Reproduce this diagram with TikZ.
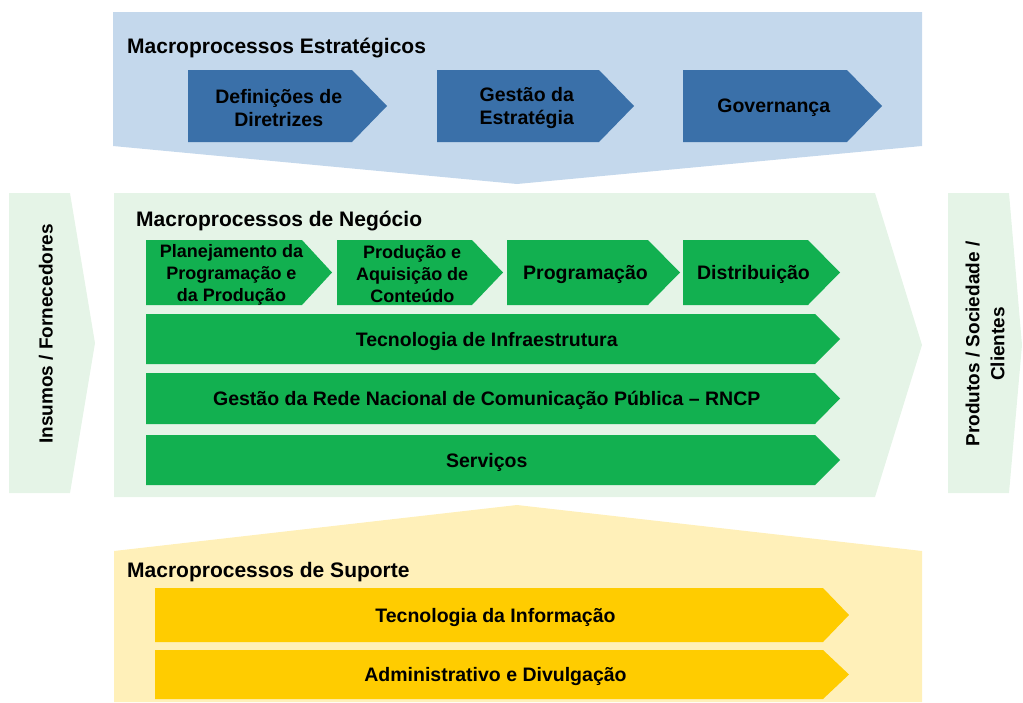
\documentclass[tikz,border=0pt]{standalone}
\usepackage{fontspec}
\setmainfont{Liberation Sans}

\definecolor{bluebg}{HTML}{C4D8EC}
\definecolor{bluebox}{HTML}{3A70A9}
\definecolor{greenbg}{HTML}{E5F4E7}
\definecolor{greenbox}{HTML}{12B050}
\definecolor{yellowbg}{HTML}{FFF0B9}
\definecolor{yellowbox}{HTML}{FFCC00}

\tikzset{
  titletext/.style={anchor=base west, inner sep=0pt, font=\bfseries\fontsize{21}{25}\selectfont},
  boxtext/.style={align=center, inner sep=0pt, yshift=-2pt, font=\bfseries\fontsize{19.5}{23.5}\selectfont},
  rowtext/.style={align=center, inner sep=0pt, yshift=-2pt, font=\bfseries\fontsize{18}{22}\selectfont},
  sidetext/.style={align=center, inner sep=0pt, rotate=90, font=\bfseries\fontsize{19}{25}\selectfont}
}

% name, colour, left, top, flat end, bottom, tip, text style
\newcommand{\procbox}[8]{%
  \fill[#2] (#3,#4) -- (#5,#4) -- (#7,{(#4+#6)/2}) -- (#5,#6) -- (#3,#6) -- cycle;
  \node[#8] (#1) at ({(#3+(#5+#7)/2)/2},{(#4+#6)/2})}

\begin{document}
\begin{tikzpicture}[x=1pt,y=-1pt]
  \useasboundingbox (0,0) rectangle (1023,702);

  \fill[bluebg] (113,12) -- (922,12) -- (922,146) -- (517,184) -- (113,146) -- cycle;
  \fill[greenbg] (114,193) -- (875,193) -- (922,345) -- (875,497) -- (114,497) -- cycle;
  \fill[yellowbg] (114,551) -- (517,505) -- (922,551) -- (922,702) -- (114,702) -- cycle;
  \fill[greenbg] (9,193) -- (70,193) -- (95,343) -- (70,493) -- (9,493) -- cycle;
  \fill[greenbg] (948,193) -- (1009,193) -- (1022,345) -- (1009,493) -- (948,493) -- cycle;

  \node[titletext] (estrat) at (127,53) {Macroprocessos Estratégicos};
  \node[titletext] (negocio) at (136,226) {Macroprocessos de Negócio};
  \node[titletext] (suporte) at (127,577) {Macroprocessos de Suporte};

  \procbox{diretrizes}{bluebox}{188}{70}{352}{142}{387}{boxtext} {Definições de\\Diretrizes};
  \procbox{estrategia}{bluebox}{437}{70}{599}{142}{634}{boxtext} {Gestão da\\Estratégia};
  \procbox{governanca}{bluebox}{683}{70}{847}{142}{882}{boxtext} {Governança};

  \procbox{planejamento}{greenbox}{146}{240}{302}{305}{332}{rowtext} {Planejamento da\\Programação e\\da Produção};
  \procbox{producao}{greenbox}{337}{240}{472}{305}{503}{rowtext} {Produção e\\Aquisição de\\Conteúdo};
  \procbox{programacao}{greenbox}{507}{240}{648}{305}{680}{boxtext} {Programação};
  \procbox{distribuicao}{greenbox}{683}{240}{808}{305}{840}{boxtext} {Distribuição};
  \procbox{infra}{greenbox}{146}{314}{815}{364}{840}{boxtext} {Tecnologia de Infraestrutura};
  \procbox{rncp}{greenbox}{146}{373}{815}{424}{840}{boxtext} {Gestão da Rede Nacional de Comunicação Pública -- RNCP};
  \procbox{servicos}{greenbox}{146}{435}{815}{485}{840}{boxtext} {Serviços};

  \procbox{informacao}{yellowbox}{155}{588}{823}{642}{849}{boxtext} {Tecnologia da Informação};
  \procbox{administrativo}{yellowbox}{155}{650}{823}{699}{849}{boxtext} {Administrativo e Divulgação};

  \node[sidetext] (insumos) at (46,334) {Insumos / Fornecedores};
  \node[sidetext] (produtos) at (985,344) {Produtos / Sociedade /\\Clientes};
\end{tikzpicture}
\end{document}
